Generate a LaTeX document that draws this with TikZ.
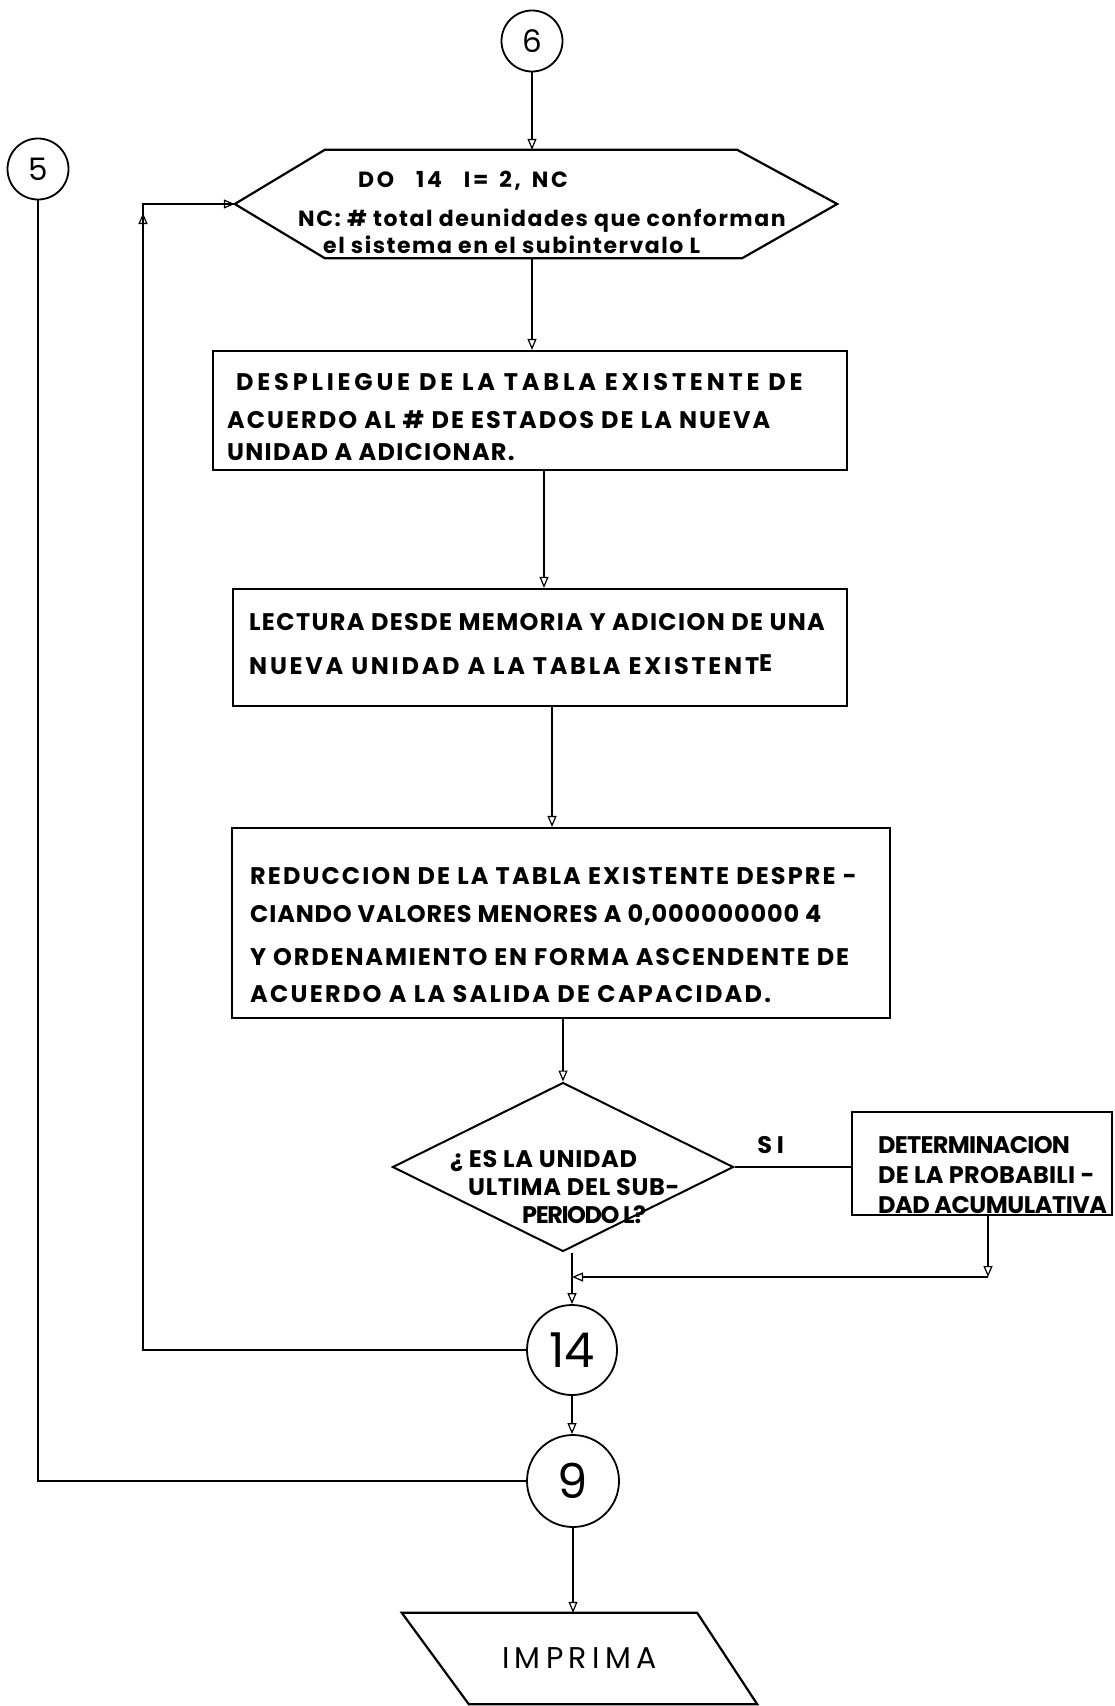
\documentclass[tikz,border=0pt]{standalone}
\usepackage{fontspec}
\usetikzlibrary{arrows.meta,shapes.geometric}
\newfontfamily\lett{Poppins}
% bold lettering
\newcommand\bfont[1]{\lett\bfseries\fontsize{#1}{30pt}\selectfont}
% regular lettering for connector circles and the output symbol
\newcommand\rfont[1]{\lett\fontsize{#1}{#1}\selectfont}
% one line of hand lettering with its own letter spacing
\newcommand\lsp[2]{{\addfontfeatures{LetterSpace=#1}#2}}

\begin{document}
\begin{tikzpicture}[x=1pt,y=-1pt,
  conn/.style={line width=1.3pt},
  arr/.style={conn,-{Triangle[open,length=11pt,width=9pt,line width=1.2pt]}},
  frame/.style={draw,line width=2.2pt,inner sep=0pt},
  onpage/.style={draw,circle,line width=1.8pt,inner sep=0pt},
  txt/.style={anchor=north west,inner sep=0pt,align=left}
]
\useasboundingbox[fill=white] (0,0) rectangle (1115,1706);

% connectors on this page
\node[onpage,minimum size=61pt,font=\rfont{31pt}] (c6) at (532,41) {6};
\node[onpage,minimum size=61pt,font=\rfont{31pt}] (c5) at (38,169) {5};
\node[onpage,minimum size=90pt,font=\rfont{48pt}] (c14) at (572,1350) {14};
\node[onpage,minimum size=92pt,font=\rfont{48pt}] (c9) at (573,1481) {9};

% loop header (hexagon)
\node[inner sep=0pt,minimum width=602pt,minimum height=108pt] (hex) at (536,204) {};
\draw[line width=2.2pt,line join=miter] (hex.west) -- ([xshift=90pt]hex.north west)
  -- ([xshift=-100pt]hex.north east) -- (hex.east)
  -- ([xshift=-95pt]hex.south east) -- ([xshift=90pt]hex.south west) -- cycle;
\node[txt,font=\bfont{22pt}] (thex) at (298,171)
  {\hspace*{60pt}\lsp{12}{DO\hspace{22pt}14\hspace{22pt}I= \,2, \,NC}\\[9pt]
   \lsp{7}{NC: \# total deunidades que conforman}\\[-3pt]
   \hspace*{25pt}\lsp{7}{el sistema en el subintervalo L}};

% process boxes
\node[frame,minimum width=634pt,minimum height=119pt] (b1) at (530,410.5) {};
\node[txt,font=\bfont{24pt}] (t1) at (227,373.5)
  {\hspace*{9pt}\lsp{15.8}{DESPLIEGUE DE LA TABLA EXISTENTE DE}\\[8pt]
   \lsp{8.5}{ACUERDO AL \# DE ESTADOS DE LA NUEVA}\\[2pt]
   \lsp{5.3}{UNIDAD A ADICIONAR.}};

\node[frame,minimum width=614pt,minimum height=117pt] (b2) at (540,647.5) {};
\node[txt,font=\bfont{24pt}] (t2) at (249,613.5)
  {\lsp{5.7}{LECTURA DESDE MEMORIA Y ADICION DE UNA}\\[14pt]
   \lsp{11.5}{NUEVA UNIDAD A LA TABLA EXISTENT\raisebox{3pt}{E}}};

\node[frame,minimum width=658pt,minimum height=190pt] (b3) at (561,923) {};
\node[txt,font=\bfont{24pt}] (t3) at (250,867.5)
  {\lsp{8.7}{REDUCCION DE LA TABLA EXISTENTE DESPRE -}\\[8pt]
   \lsp{3.5}{CIANDO VALORES MENORES A 0,000000000 4}\\[13pt]
   \lsp{7.7}{Y ORDENAMIENTO EN FORMA ASCENDENTE DE}\\[7pt]
   \lsp{9.4}{ACUERDO A LA SALIDA DE CAPACIDAD.}};

% decision
\node[draw,diamond,line width=2pt,inner sep=0pt,minimum width=341pt,minimum height=169pt] (dia) at (563,1167) {};
\node[txt,font=\bfont{24pt}] (tdia) at (450,1150.5)
  {\lsp{3}{¿ ES LA UNIDAD}\\[-2pt]
   \hspace*{18pt}\lsp{3}{ULTIMA DEL SUB-}\\[-2pt]
   \hspace*{72pt}\lsp{-6}{PERIODO L?}};

\node[frame,minimum width=260pt,minimum height=103pt] (b4) at (982,1163.5) {};
\node[txt,font=\bfont{24pt}] (t4) at (878,1136.5)
  {\lsp{-3}{DETERMINACION}\\
   \lsp{1}{DE LA PROBABILI -}\\
   \lsp{-2}{DAD ACUMULATIVA}};

% output
\node[inner sep=0pt,minimum width=355pt,minimum height=91pt,font=\rfont{30pt}] (imp) at (579.5,1658.5) {\lsp{18}{IMPRIMA}};
\draw[line width=2.2pt] (imp.north west) -- ([xshift=-60pt]imp.north east)
  -- (imp.south east) -- ([xshift=67pt]imp.south west) -- cycle;

% main flow
\draw[arr] (c6.south) -- (c6.south |- hex.north);
\draw[arr] (c6.south |- hex.south) -- (c6.south |- b1.north);
\draw[arr] ([xshift=14pt]b1.south) -- ([xshift=14pt]b1.south |- b2.north);
\draw[arr] ([xshift=12pt]b2.south) -- ([xshift=12pt]b2.south |- b3.north);
\draw[arr] (dia.north |- b3.south) -- (dia.north);
\draw[arr] (c14.north |- dia.south) -- (c14.north);
\draw[conn] (dia.east) -- node[pos=0.31,above=9pt,font=\bfont{24pt}] (si) {\lsp{20}{SI}} (dia.east -| b4.west);

% return from the accumulated-probability box
\coordinate (rj) at (988,1277);
\draw[arr] (rj |- b4.south) -- (rj);
\draw[arr] (rj) -- (rj -| c14.north);

% loop back to the DO header
\coordinate (lc) at (143,204);
\draw[conn] (c14.west) -| (lc) -- (hex.west);
\draw[arr] ([yshift=-30pt]lc) -- ([yshift=-9pt]lc);
\draw[arr] (lc) -- (hex.west);

\draw[arr] (c14.south) -- (c14.south |- c9.north);
\draw[conn] (c9.west) -| (c5.south);
\draw[arr] (c9.south) -- (c9.south |- imp.north);
\end{tikzpicture}
\end{document}
